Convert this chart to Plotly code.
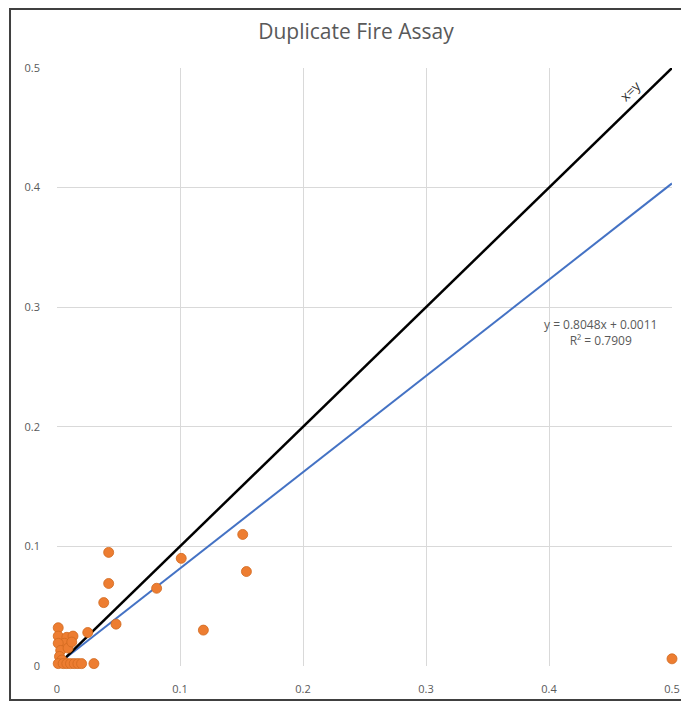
import plotly.graph_objects as go

# Data (original assay vs duplicate assay)
original = [0.151, 0.154, 0.101, 0.081, 0.119, 0.042, 0.042, 0.038, 0.048, 0.500,
            0.001, 0.001, 0.008, 0.013, 0.006, 0.025, 0.001, 0.003, 0.002, 0.004,
            0.001, 0.005, 0.008, 0.011, 0.014, 0.017, 0.020, 0.030, 0.009, 0.012]
duplicate = [0.110, 0.079, 0.090, 0.065, 0.030, 0.095, 0.069, 0.053, 0.035, 0.006,
             0.032, 0.025, 0.024, 0.025, 0.019, 0.028, 0.019, 0.013, 0.008, 0.005,
             0.002, 0.002, 0.002, 0.002, 0.002, 0.002, 0.002, 0.002, 0.015, 0.020]

trend_slope = 0.8048
trend_intercept = 0.0011
r_squared = 0.7909
line_range = [0.0, 0.5]
tick_vals = [0, 0.1, 0.2, 0.3, 0.4, 0.5]
tick_text = ["0", "0.1", "0.2", "0.3", "0.4", "0.5"]

trend_y = [trend_slope * x + trend_intercept for x in line_range]

fig = go.Figure()
fig.add_trace(go.Scatter(x=line_range, y=trend_y, mode="lines",
                         line=dict(color="#4472C4", width=2), hoverinfo="skip"))
fig.add_trace(go.Scatter(x=line_range, y=line_range, mode="lines",
                         line=dict(color="#000000", width=2.5), hoverinfo="skip"))
fig.add_trace(go.Scatter(x=original, y=duplicate, mode="markers", cliponaxis=False,
                         marker=dict(color="#ED7D31", size=10,
                                     line=dict(color="#D0691F", width=0.8))))

font_family = "Open Sans, Liberation Sans, Arial, sans-serif"
axis_common = dict(range=[0, 0.5], tickvals=tick_vals, ticktext=tick_text,
                   showgrid=True, gridcolor="#D9D9D9", gridwidth=1,
                   zeroline=False, showline=False, ticks="", automargin=False,
                   tickfont=dict(size=11, color="#595959", family=font_family))

fig.update_layout(
    width=681, height=693,
    margin=dict(l=49, r=17, t=60, b=35, autoexpand=False),
    paper_bgcolor="white", plot_bgcolor="white",
    showlegend=False,
    title=dict(text="Duplicate Fire Assay", x=0.511, xanchor="center",
               y=0.9654, yanchor="middle",
               font=dict(size=21, color="#595959", family=font_family)),
    xaxis=dict(**axis_common, ticklabelstandoff=15),
    yaxis=dict(**axis_common, ticklabelstandoff=16),
)

fig.add_annotation(x=0.4415, y=0.279, xref="x", yref="y",
                   text=f"y = {trend_slope}x + {trend_intercept}<br>R² = {r_squared}",
                   showarrow=False, align="center",
                   font=dict(size=12, color="#595959", family=font_family))
fig.add_annotation(x=0.466, y=0.481, xref="x", yref="y", text="x=y",
                   showarrow=False, textangle=-44,
                   font=dict(size=13.5, color="#303030", family=font_family))

# Outer frame (left, top, bottom edges) around the chart
fig.add_shape(type="path", xref="paper", yref="paper",
              path="M 1.03,1.0987 L -0.0764,1.0987 L -0.0764,-0.0569 L 1.03,-0.0569",
              line=dict(color="#404040", width=2), layer="above")

fig.write_html("out.html")
